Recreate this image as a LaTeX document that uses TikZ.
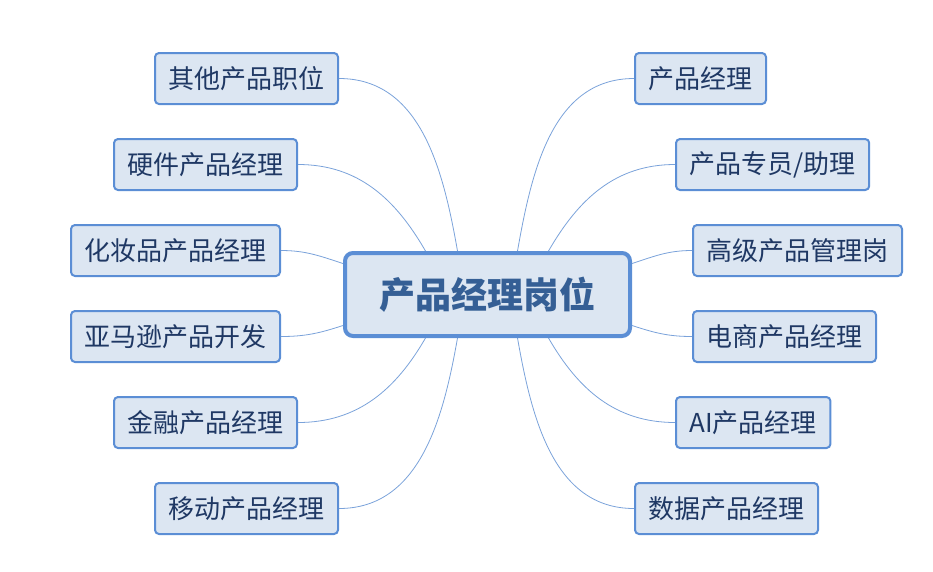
\documentclass[tikz,border=0pt]{standalone}
\usepackage{fontspec}
\setmainfont{Noto Sans CJK SC}
\definecolor{boxline}{HTML}{5B8ED5}
\definecolor{boxfill}{HTML}{DCE6F2}
\definecolor{boxtext}{HTML}{1F3864}
\definecolor{roottext}{HTML}{355F95}
\definecolor{linkline}{HTML}{7AA2DA}
\begin{document}
\begin{tikzpicture}[x=1pt, y=-1pt,
    job/.style={draw=boxline, line width=2pt, fill=boxfill, rounded corners=4pt,
      text=boxtext, font=\fontsize{26pt}{30pt}\selectfont,
      inner xsep=13.5pt, inner ysep=0pt, minimum height=51pt},
    root/.style={draw=boxline, line width=4pt, fill=boxfill, rounded corners=8pt,
      text=roottext, font=\fontsize{36pt}{40pt}\selectfont\bfseries,
      minimum width=285pt, minimum height=83pt},
    link/.style={draw=linkline, line width=0.8pt}]
  \useasboundingbox (0,0) rectangle (933,571);

  \node[root] (pm) at (487.5,294.5) {产品经理岗位};

  % left side
  \node[job, anchor=east] (other) at (339,78.5) {其他产品职位};
  \node[job, anchor=east] (hw) at (298,164.5) {硬件产品经理};
  \node[job, anchor=east] (beauty) at (281,250.5) {化妆品产品经理};
  \node[job, anchor=east] (amazon) at (281,336.5) {亚马逊产品开发};
  \node[job, anchor=east] (fin) at (298,422.5) {金融产品经理};
  \node[job, anchor=east] (mobile) at (339,508.5) {移动产品经理};

  % right side
  \node[job, anchor=west] (plain) at (634,78.5) {产品经理};
  \node[job, anchor=west] (assist) at (675,164.5) {产品专员/助理};
  \node[job, anchor=west] (senior) at (692,250.5) {高级产品管理岗};
  \node[job, anchor=west] (ecom) at (692,336.5) {电商产品经理};
  \node[job, anchor=west] (ai) at (675,422.5) {AI产品经理};
  \node[job, anchor=west] (data) at (634,508.5) {数据产品经理};

  \draw[link] (other.east) to[out=0,in=100] ([xshift=-30pt]pm.north);
  \draw[link] (hw.east) to[out=0,in=120] ([xshift=-62pt]pm.north);
  \draw[link] (beauty.east) to[out=0,in=162] ([yshift=31pt]pm.west);
  \draw[link] (amazon.east) to[out=0,in=198] ([yshift=-31pt]pm.west);
  \draw[link] (fin.east) to[out=0,in=240] ([xshift=-62pt]pm.south);
  \draw[link] (mobile.east) to[out=0,in=260] ([xshift=-30pt]pm.south);

  \draw[link] (plain.west) to[out=180,in=80] ([xshift=30pt]pm.north);
  \draw[link] (assist.west) to[out=180,in=60] ([xshift=61pt]pm.north);
  \draw[link] (senior.west) to[out=180,in=18] ([yshift=31pt]pm.east);
  \draw[link] (ecom.west) to[out=180,in=-18] ([yshift=-31pt]pm.east);
  \draw[link] (ai.west) to[out=180,in=-60] ([xshift=61pt]pm.south);
  \draw[link] (data.west) to[out=180,in=-80] ([xshift=30pt]pm.south);
\end{tikzpicture}
\end{document}
